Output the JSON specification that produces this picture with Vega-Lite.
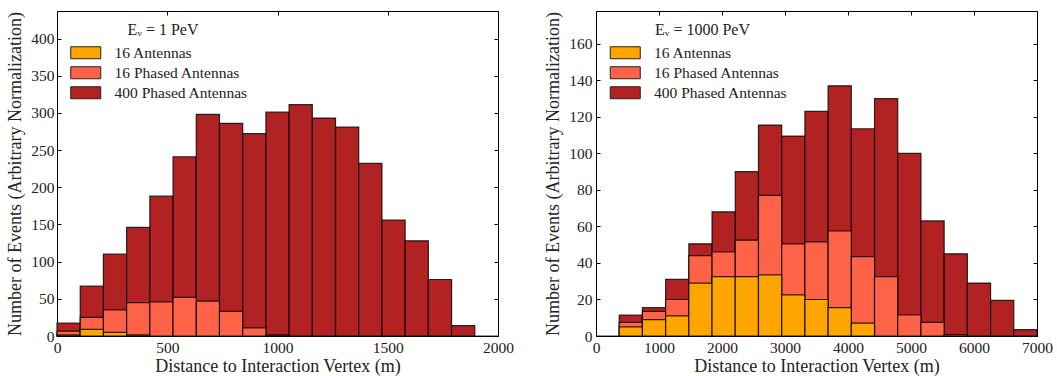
{
  "$schema": "https://vega.github.io/schema/vega-lite/v6.json",
  "padding": {"left": 6, "top": 10, "right": 5, "bottom": 0},
  "spacing": 98,
  "bounds": "flush",
  "config": {
    "font": "Liberation Serif",
    "view": {"stroke": null},
    "axis": {
      "grid": false,
      "domainColor": "#000",
      "domainWidth": 1,
      "tickColor": "#000",
      "tickWidth": 1,
      "tickSize": -4,
      "labelColor": "#222",
      "labelFontSize": 15.5,
      "labelFlush": false,
      "labelOverlap": false,
      "format": "d",
      "titleColor": "#222",
      "titleFontSize": 18,
      "titleFontWeight": "normal",
      "zindex": 1
    },
    "legend": {
      "orient": "none",
      "direction": "vertical",
      "padding": 0,
      "labelFontSize": 15.5,
      "labelColor": "#222",
      "titleFontSize": 16,
      "titleFontWeight": "normal",
      "titleColor": "#222",
      "titleAnchor": "middle",
      "titlePadding": 7,
      "rowPadding": 2,
      "labelOffset": 21,
      "symbolType": "M-2.5,-1H2.5V1H-2.5Z",
      "symbolSize": 144,
      "symbolStrokeColor": "#222",
      "symbolStrokeWidth": 1,
      "symbolOpacity": 1
    }
  },
  "datasets": {
    "pev1": [
      {"series": "400 Phased Antennas", "lo": 0, "hi": 105.3, "count": 17.5},
      {"series": "400 Phased Antennas", "lo": 105.3, "hi": 210.5, "count": 67},
      {"series": "400 Phased Antennas", "lo": 210.5, "hi": 315.8, "count": 110},
      {"series": "400 Phased Antennas", "lo": 315.8, "hi": 421.1, "count": 146},
      {"series": "400 Phased Antennas", "lo": 421.1, "hi": 526.3, "count": 188},
      {"series": "400 Phased Antennas", "lo": 526.3, "hi": 631.6, "count": 241},
      {"series": "400 Phased Antennas", "lo": 631.6, "hi": 736.8, "count": 298},
      {"series": "400 Phased Antennas", "lo": 736.8, "hi": 842.1, "count": 286},
      {"series": "400 Phased Antennas", "lo": 842.1, "hi": 947.4, "count": 272},
      {"series": "400 Phased Antennas", "lo": 947.4, "hi": 1052.6, "count": 301},
      {"series": "400 Phased Antennas", "lo": 1052.6, "hi": 1157.9, "count": 311},
      {"series": "400 Phased Antennas", "lo": 1157.9, "hi": 1263.2, "count": 293},
      {"series": "400 Phased Antennas", "lo": 1263.2, "hi": 1368.4, "count": 281},
      {"series": "400 Phased Antennas", "lo": 1368.4, "hi": 1473.7, "count": 232},
      {"series": "400 Phased Antennas", "lo": 1473.7, "hi": 1578.9, "count": 156},
      {"series": "400 Phased Antennas", "lo": 1578.9, "hi": 1684.2, "count": 128},
      {"series": "400 Phased Antennas", "lo": 1684.2, "hi": 1789.5, "count": 76},
      {"series": "400 Phased Antennas", "lo": 1789.5, "hi": 1894.7, "count": 14},
      {"series": "400 Phased Antennas", "lo": 1894.7, "hi": 2000, "count": 0},
      {"series": "16 Phased Antennas", "lo": 0, "hi": 105.3, "count": 6.5},
      {"series": "16 Phased Antennas", "lo": 105.3, "hi": 210.5, "count": 25},
      {"series": "16 Phased Antennas", "lo": 210.5, "hi": 315.8, "count": 35},
      {"series": "16 Phased Antennas", "lo": 315.8, "hi": 421.1, "count": 45},
      {"series": "16 Phased Antennas", "lo": 421.1, "hi": 526.3, "count": 46},
      {"series": "16 Phased Antennas", "lo": 526.3, "hi": 631.6, "count": 52},
      {"series": "16 Phased Antennas", "lo": 631.6, "hi": 736.8, "count": 47},
      {"series": "16 Phased Antennas", "lo": 736.8, "hi": 842.1, "count": 33},
      {"series": "16 Phased Antennas", "lo": 842.1, "hi": 947.4, "count": 11},
      {"series": "16 Phased Antennas", "lo": 947.4, "hi": 1052.6, "count": 1.5},
      {"series": "16 Antennas", "lo": 0, "hi": 105.3, "count": 1.5},
      {"series": "16 Antennas", "lo": 105.3, "hi": 210.5, "count": 9},
      {"series": "16 Antennas", "lo": 210.5, "hi": 315.8, "count": 5},
      {"series": "16 Antennas", "lo": 315.8, "hi": 421.1, "count": 1.5}
    ],
    "pev1000": [
      {"series": "400 Phased Antennas", "lo": 0, "hi": 368.4, "count": 0},
      {"series": "400 Phased Antennas", "lo": 368.4, "hi": 736.8, "count": 11.5},
      {"series": "400 Phased Antennas", "lo": 736.8, "hi": 1105.3, "count": 15.5},
      {"series": "400 Phased Antennas", "lo": 1105.3, "hi": 1473.7, "count": 31},
      {"series": "400 Phased Antennas", "lo": 1473.7, "hi": 1842.1, "count": 50.5},
      {"series": "400 Phased Antennas", "lo": 1842.1, "hi": 2210.5, "count": 68},
      {"series": "400 Phased Antennas", "lo": 2210.5, "hi": 2578.9, "count": 90},
      {"series": "400 Phased Antennas", "lo": 2578.9, "hi": 2947.4, "count": 115.5},
      {"series": "400 Phased Antennas", "lo": 2947.4, "hi": 3315.8, "count": 109.5},
      {"series": "400 Phased Antennas", "lo": 3315.8, "hi": 3684.2, "count": 123},
      {"series": "400 Phased Antennas", "lo": 3684.2, "hi": 4052.6, "count": 137},
      {"series": "400 Phased Antennas", "lo": 4052.6, "hi": 4421.1, "count": 113.5},
      {"series": "400 Phased Antennas", "lo": 4421.1, "hi": 4789.5, "count": 130},
      {"series": "400 Phased Antennas", "lo": 4789.5, "hi": 5157.9, "count": 100},
      {"series": "400 Phased Antennas", "lo": 5157.9, "hi": 5526.3, "count": 63},
      {"series": "400 Phased Antennas", "lo": 5526.3, "hi": 5894.7, "count": 45},
      {"series": "400 Phased Antennas", "lo": 5894.7, "hi": 6263.2, "count": 29},
      {"series": "400 Phased Antennas", "lo": 6263.2, "hi": 6631.6, "count": 19.5},
      {"series": "400 Phased Antennas", "lo": 6631.6, "hi": 7000, "count": 3.5},
      {"series": "16 Phased Antennas", "lo": 368.4, "hi": 736.8, "count": 7.5},
      {"series": "16 Phased Antennas", "lo": 736.8, "hi": 1105.3, "count": 13.5},
      {"series": "16 Phased Antennas", "lo": 1105.3, "hi": 1473.7, "count": 20},
      {"series": "16 Phased Antennas", "lo": 1473.7, "hi": 1842.1, "count": 44},
      {"series": "16 Phased Antennas", "lo": 1842.1, "hi": 2210.5, "count": 46},
      {"series": "16 Phased Antennas", "lo": 2210.5, "hi": 2578.9, "count": 52.5},
      {"series": "16 Phased Antennas", "lo": 2578.9, "hi": 2947.4, "count": 77},
      {"series": "16 Phased Antennas", "lo": 2947.4, "hi": 3315.8, "count": 50.5},
      {"series": "16 Phased Antennas", "lo": 3315.8, "hi": 3684.2, "count": 51.5},
      {"series": "16 Phased Antennas", "lo": 3684.2, "hi": 4052.6, "count": 57.5},
      {"series": "16 Phased Antennas", "lo": 4052.6, "hi": 4421.1, "count": 43.5},
      {"series": "16 Phased Antennas", "lo": 4421.1, "hi": 4789.5, "count": 32.5},
      {"series": "16 Phased Antennas", "lo": 4789.5, "hi": 5157.9, "count": 11.5},
      {"series": "16 Phased Antennas", "lo": 5157.9, "hi": 5526.3, "count": 7.5},
      {"series": "16 Phased Antennas", "lo": 5526.3, "hi": 5894.7, "count": 0.7},
      {"series": "16 Antennas", "lo": 368.4, "hi": 736.8, "count": 5},
      {"series": "16 Antennas", "lo": 736.8, "hi": 1105.3, "count": 9},
      {"series": "16 Antennas", "lo": 1105.3, "hi": 1473.7, "count": 11},
      {"series": "16 Antennas", "lo": 1473.7, "hi": 1842.1, "count": 29},
      {"series": "16 Antennas", "lo": 1842.1, "hi": 2210.5, "count": 32.5},
      {"series": "16 Antennas", "lo": 2210.5, "hi": 2578.9, "count": 32.5},
      {"series": "16 Antennas", "lo": 2578.9, "hi": 2947.4, "count": 33.5},
      {"series": "16 Antennas", "lo": 2947.4, "hi": 3315.8, "count": 22.5},
      {"series": "16 Antennas", "lo": 3315.8, "hi": 3684.2, "count": 20},
      {"series": "16 Antennas", "lo": 3684.2, "hi": 4052.6, "count": 15.5},
      {"series": "16 Antennas", "lo": 4052.6, "hi": 4421.1, "count": 7}
    ]
  },
  "hconcat": [
    {
      "width": 441,
      "height": 325,
      "data": {"name": "pev1"},
      "layer": [
        {
          "mark": {"type": "rect", "stroke": "#000", "strokeWidth": 1.2, "strokeOpacity": 0.8},
          "encoding": {
            "x": {"field": "lo", "type": "quantitative", "scale": {"domain": [0, 2000], "nice": false, "zero": false},
                  "axis": {"orient": "bottom", "values": [0, 500, 1000, 1500, 2000], "labelPadding": 8, "title": "Distance to Interaction Vertex (m)", "titlePadding": 2}},
            "x2": {"field": "hi"},
            "y": {"field": "count", "type": "quantitative", "scale": {"domain": [0, 437], "nice": false},
                  "axis": {"orient": "left", "values": [0, 50, 100, 150, 200, 250, 300, 350, 400], "labelPadding": 7, "title": "Number of Events (Arbitrary Normalization)", "titlePadding": 6}},
            "y2": {"datum": 0},
            "color": {"field": "series", "type": "nominal",
                      "scale": {"domain": ["16 Antennas", "16 Phased Antennas", "400 Phased Antennas"], "range": ["#FFA500", "#FF6347", "#B22222"]},
                      "legend": {"title": "Eᵥ = 1 PeV", "legendX": 21, "legendY": 11}}
          }
        },
        {
          "mark": {"type": "point", "opacity": 0},
          "encoding": {
            "x": {"field": "lo", "type": "quantitative", "scale": {"domain": [0, 2000], "nice": false, "zero": false},
                  "axis": {"orient": "top", "values": [0, 500, 1000, 1500, 2000], "labels": false, "title": null}},
            "y": {"field": "count", "type": "quantitative", "scale": {"domain": [0, 437], "nice": false},
                  "axis": {"orient": "right", "values": [0, 50, 100, 150, 200, 250, 300, 350, 400], "labels": false, "title": null}}
          }
        }
      ],
      "resolve": {"axis": {"x": "independent", "y": "independent"}}
    },
    {
      "width": 441,
      "height": 325,
      "data": {"name": "pev1000"},
      "layer": [
        {
          "mark": {"type": "rect", "stroke": "#000", "strokeWidth": 1.2, "strokeOpacity": 0.8},
          "encoding": {
            "x": {"field": "lo", "type": "quantitative", "scale": {"domain": [0, 7000], "nice": false, "zero": false},
                  "axis": {"orient": "bottom", "values": [0, 1000, 2000, 3000, 4000, 5000, 6000, 7000], "labelPadding": 8, "title": "Distance to Interaction Vertex (m)", "titlePadding": 2}},
            "x2": {"field": "hi"},
            "y": {"field": "count", "type": "quantitative", "scale": {"domain": [0, 178], "nice": false},
                  "axis": {"orient": "left", "values": [0, 20, 40, 60, 80, 100, 120, 140, 160], "labelPadding": 8, "title": "Number of Events (Arbitrary Normalization)", "titlePadding": 6}},
            "y2": {"datum": 0},
            "color": {"field": "series", "type": "nominal",
                      "scale": {"domain": ["16 Antennas", "16 Phased Antennas", "400 Phased Antennas"], "range": ["#FFA500", "#FF6347", "#B22222"]},
                      "legend": {"title": "Eᵥ = 1000 PeV", "legendX": 21.5, "legendY": 11}}
          }
        },
        {
          "mark": {"type": "point", "opacity": 0},
          "encoding": {
            "x": {"field": "lo", "type": "quantitative", "scale": {"domain": [0, 7000], "nice": false, "zero": false},
                  "axis": {"orient": "top", "values": [0, 1000, 2000, 3000, 4000, 5000, 6000, 7000], "labels": false, "title": null}},
            "y": {"field": "count", "type": "quantitative", "scale": {"domain": [0, 178], "nice": false},
                  "axis": {"orient": "right", "values": [0, 20, 40, 60, 80, 100, 120, 140, 160], "labels": false, "title": null}}
          }
        }
      ],
      "resolve": {"axis": {"x": "independent", "y": "independent"}}
    }
  ],
  "resolve": {"legend": {"color": "independent"}, "scale": {"color": "independent"}}
}
